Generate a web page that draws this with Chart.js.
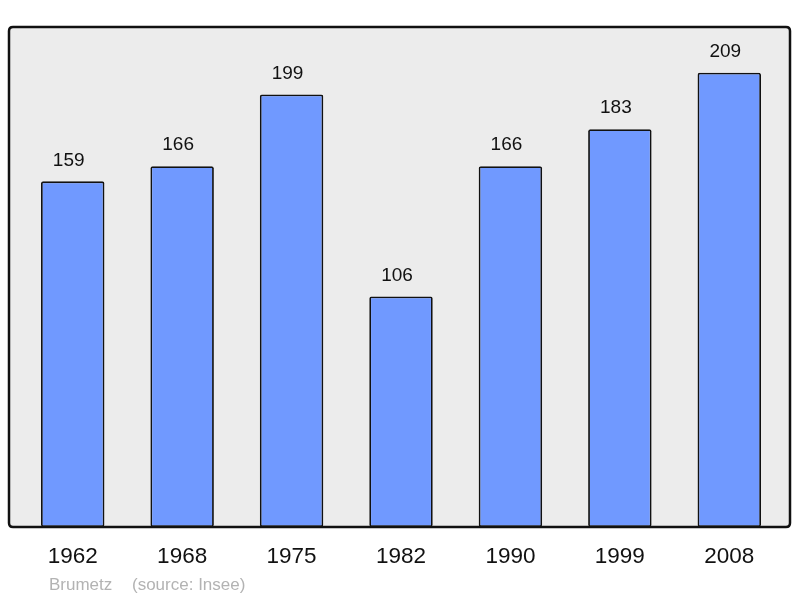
<!DOCTYPE html>
<html>
<head>
<meta charset="utf-8">
<script src="https://cdn.jsdelivr.net/npm/chart.js@4/dist/chart.umd.min.js"></script>
<style>
  html, body { margin: 0; padding: 0; background: #fff; overflow: hidden; }
  #wrap { width: 800px; height: 598px; position: relative; }
</style>
</head>
<body>
<div id="wrap"><canvas id="chart" width="800" height="598"></canvas></div>
<script>
const years = ['1962', '1968', '1975', '1982', '1990', '1999', '2008'];
const population = [159, 166, 199, 106, 166, 183, 209];
const townName = 'Brumetz';
const sourceText = '(source: Insee)';

// frame behind the bars, border on top of them
const framePlugin = {
    id: 'frame',
    beforeDatasetsDraw(chart) {
        const ctx = chart.ctx;
        ctx.save();
        roundRect(ctx, 9, 27, 781, 500, 4);
        ctx.fillStyle = '#ececec';
        ctx.fill();
        ctx.restore();
    },
    afterDatasetsDraw(chart) {
        const ctx = chart.ctx;
        const x = chart.scales.x;
        const meta = chart.getDatasetMeta(0);
        ctx.save();
        roundRect(ctx, 9, 27, 781, 500, 4);
        ctx.lineWidth = 2.5;
        ctx.strokeStyle = '#111';
        ctx.stroke();

        // value labels over the bars
        ctx.fillStyle = '#111';
        ctx.textAlign = 'center';
        ctx.textBaseline = 'middle';
        ctx.font = '19px "Liberation Sans", Arial, sans-serif';
        meta.data.forEach((bar, i) => {
            ctx.fillText(String(population[i]), bar.x - 4, bar.y - 21);
        });

        // year labels
        ctx.font = '22.5px "Liberation Sans", Arial, sans-serif';
        years.forEach((y, i) => {
            ctx.fillText(y, x.getPixelForValue(i), 557);
        });

        // footer
        ctx.textAlign = 'left';
        ctx.fillStyle = '#b3b3b3';
        ctx.font = '17px "Liberation Sans", Arial, sans-serif';
        ctx.fillText(townName, 49, 585);
        ctx.fillText(sourceText, 132, 585);
        ctx.restore();
    }
};

function roundRect(ctx, x, y, w, h, r) {
    ctx.beginPath();
    ctx.moveTo(x + r, y);
    ctx.lineTo(x + w - r, y);
    ctx.quadraticCurveTo(x + w, y, x + w, y + r);
    ctx.lineTo(x + w, y + h - r);
    ctx.quadraticCurveTo(x + w, y + h, x + w - r, y + h);
    ctx.lineTo(x + r, y + h);
    ctx.quadraticCurveTo(x, y + h, x, y + h - r);
    ctx.lineTo(x, y + r);
    ctx.quadraticCurveTo(x, y, x + r, y);
    ctx.closePath();
}

new Chart(document.getElementById('chart'), {
    type: 'bar',
    data: {
        labels: years,
        datasets: [{
            data: population,
            backgroundColor: '#7099ff',
            borderColor: '#111',
            borderWidth: 1.8,
            borderRadius: 2,
            borderSkipped: false,
            barPercentage: 0.58,
            categoryPercentage: 1
        }]
    },
    options: {
        responsive: false,
        animation: false,
        devicePixelRatio: 1,
        layout: {
            padding: { left: 18, right: 16, top: 27, bottom: 71 }
        },
        plugins: {
            legend: { display: false },
            tooltip: { enabled: false }
        },
        scales: {
            x: { display: false },
            y: { display: false, min: 0, max: 230 }
        }
    },
    plugins: [framePlugin]
});
</script>
</body>
</html>
